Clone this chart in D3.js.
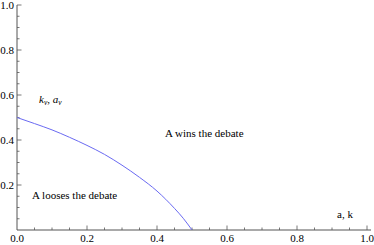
<!DOCTYPE html>
<html><head><meta charset="utf-8">
<script src="https://cdn.jsdelivr.net/npm/d3@7"></script>
<style>body{margin:0;background:#fff}svg{display:block}</style>
</head><body>
<svg id="c" width="374" height="245" font-family="'Liberation Serif', 'Times New Roman', Times, 'DejaVu Serif', serif"></svg>
<script>
const curveX = [0, 0.05, 0.1, 0.15, 0.2, 0.25, 0.3, 0.35, 0.4, 0.45, 0.475, 0.5];
const curveY = [0.5, 0.473, 0.445, 0.412, 0.376, 0.336, 0.288, 0.234, 0.173, 0.096, 0.052, 0.0];
const xTicks = [0, 0.2, 0.4, 0.6, 0.8, 1.0];
const yTicks = [0.2, 0.4, 0.6, 0.8, 1.0];
const xTickLabels = ["0.0", "0.2", "0.4", "0.6", "0.8", "1.0"];
const yTickLabels = ["0.2", "0.4", "0.6", "0.8", "1.0"];
const minorTicks = d3.range(0, 21).map(i => i * 0.05);

const svg = d3.select("#c");
const x = d3.scaleLinear().domain([0, 1]).range([17, 367]);
const y = d3.scaleLinear().domain([0, 1]).range([230, 5]);
const axisColor = "#555";

// x axis
const xa = svg.append("g").attr("transform", `translate(0,${y(0)})`);
xa.append("line").attr("x1", x(0)).attr("x2", 371).attr("stroke", axisColor).attr("stroke-width", 1);
xa.selectAll(".mn").data(minorTicks.filter(v => v > 0)).join("line")
  .attr("x1", d => x(d)).attr("x2", d => x(d)).attr("y1", 0)
  .attr("y2", d => (Math.round(d * 100) % 20 === 0) ? -4.5 : -2.5)
  .attr("stroke", axisColor).attr("stroke-width", 0.8);
xa.selectAll("text").data(xTicks).join("text")
  .attr("x", d => x(d)).attr("y", 12).attr("text-anchor", "middle")
  .attr("font-size", 11).text((d, i) => xTickLabels[i]);

// y axis
const ya = svg.append("g").attr("transform", `translate(${x(0)},0)`);
ya.append("line").attr("y1", y(0)).attr("y2", y(1)).attr("stroke", axisColor).attr("stroke-width", 1);
ya.selectAll(".mn").data(minorTicks.filter(v => v > 0)).join("line")
  .attr("y1", d => y(d)).attr("y2", d => y(d)).attr("x1", 0)
  .attr("x2", d => (Math.round(d * 100) % 20 === 0) ? 4.5 : 2.5)
  .attr("stroke", axisColor).attr("stroke-width", 0.8);
ya.selectAll("text").data(yTicks).join("text")
  .attr("x", -3).attr("y", d => y(d) + 3.8).attr("text-anchor", "end")
  .attr("font-size", 11).text((d, i) => yTickLabels[i]);

// curve
const pts = curveX.map((v, i) => [v, curveY[i]]);
svg.append("path").datum(pts)
  .attr("d", d3.line().x(d => x(d[0])).y(d => y(d[1])).curve(d3.curveMonotoneX))
  .attr("fill", "none").attr("stroke", "#6a6af2").attr("stroke-width", 1);

// labels
const lab = svg.append("text").attr("x", 39).attr("y", 103).attr("font-size", 11).attr("font-style", "italic");
lab.append("tspan").text("k");
lab.append("tspan").attr("font-size", 7.5).attr("dy", 2).text("v");
lab.append("tspan").attr("font-style", "normal").attr("dy", -2).text(", ");
lab.append("tspan").text("a");
lab.append("tspan").attr("font-size", 7.5).attr("dy", 2).text("v");

svg.append("text").attr("x", 165).attr("y", 137).attr("font-size", 11).text("A wins the debate");
svg.append("text").attr("x", 32).attr("y", 199).attr("font-size", 11).text("A looses the debate");
svg.append("text").attr("x", 337).attr("y", 218).attr("font-size", 11).text("a, k");
</script>
</body></html>
